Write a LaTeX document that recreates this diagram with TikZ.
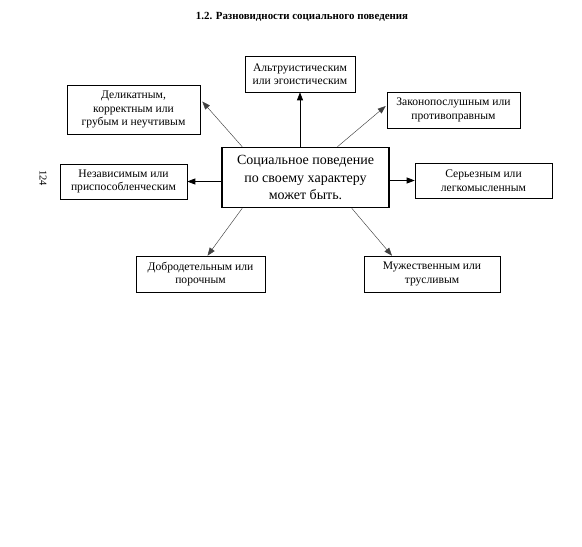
\documentclass[tikz,border=0pt]{standalone}
\usepackage{fontspec}
\setmainfont{Liberation Serif}
\usetikzlibrary{arrows.meta}
\begin{document}
\begin{tikzpicture}[x=1pt,y=-1pt,
  box/.style={draw,line width=0.6pt,align=center,inner sep=0pt,font=\fontsize{11.6}{13.5}\selectfont},
  mainbox/.style={draw,line width=1.6pt,align=center,inner sep=0pt,font=\fontsize{14}{17.5}\selectfont},
  arr/.style={-{Triangle[length=8pt,width=6pt]},line width=0.7pt},
  darr/.style={-{Triangle[length=8pt,width=6pt]},line width=0.45pt,black!75}]
\useasboundingbox (0,0) rectangle (582,547);
\node[font=\bfseries\fontsize{10.9}{13}\selectfont] (title) at (302,17) {1.2. Разновидности социального поведения};
\node[rotate=-90,font=\fontsize{10.5}{12}\selectfont] (page) at (43,178) {124};
\node[mainbox,minimum width=167,minimum height=60] (c) at (305.5,177.5) {Социальное поведение\\по своему характеру\\может быть.};
\node[box,minimum width=110,minimum height=36] (alt) at (300,74) {Альтруистическим\\или эгоистическим};
\node[box,minimum width=133,minimum height=49] (del) at (133.5,109.5) {Деликатным,\\корректным или\\грубым и неучтивым};
\node[box,minimum width=133,minimum height=36] (zak) at (453.5,110) {Законопослушным или\\противоправным};
\node[box,minimum width=137,minimum height=35] (ser) at (483.5,180.5) {Серьезным или\\легкомысленным};
\node[box,minimum width=127,minimum height=35] (nez) at (123.5,181.5) {Независимым или\\приспособленческим};
\node[box,minimum width=129,minimum height=36] (dob) at (200.5,274) {Добродетельным или\\порочным};
\node[box,minimum width=136,minimum height=36] (muz) at (432,274) {Мужественным или\\трусливым};
\draw[arr] (c.north -| alt.south) -- (alt.south);
\draw[darr] ([xshift=21pt]c.north west) -- ([xshift=2pt,yshift=8pt]del.east);
\draw[darr] ([xshift=32pt]c.north) -- ([xshift=-1pt,yshift=4pt]zak.west);
\draw[arr] (c.east |- ser.west) -- (ser.west);
\draw[arr] (c.west |- nez.east) -- (nez.east);
\draw[darr] ([xshift=21pt]c.south west) -- ([xshift=7pt]dob.north);
\draw[darr] ([xshift=-38pt]c.south east) -- ([xshift=-40pt]muz.north);
\end{tikzpicture}
\end{document}
